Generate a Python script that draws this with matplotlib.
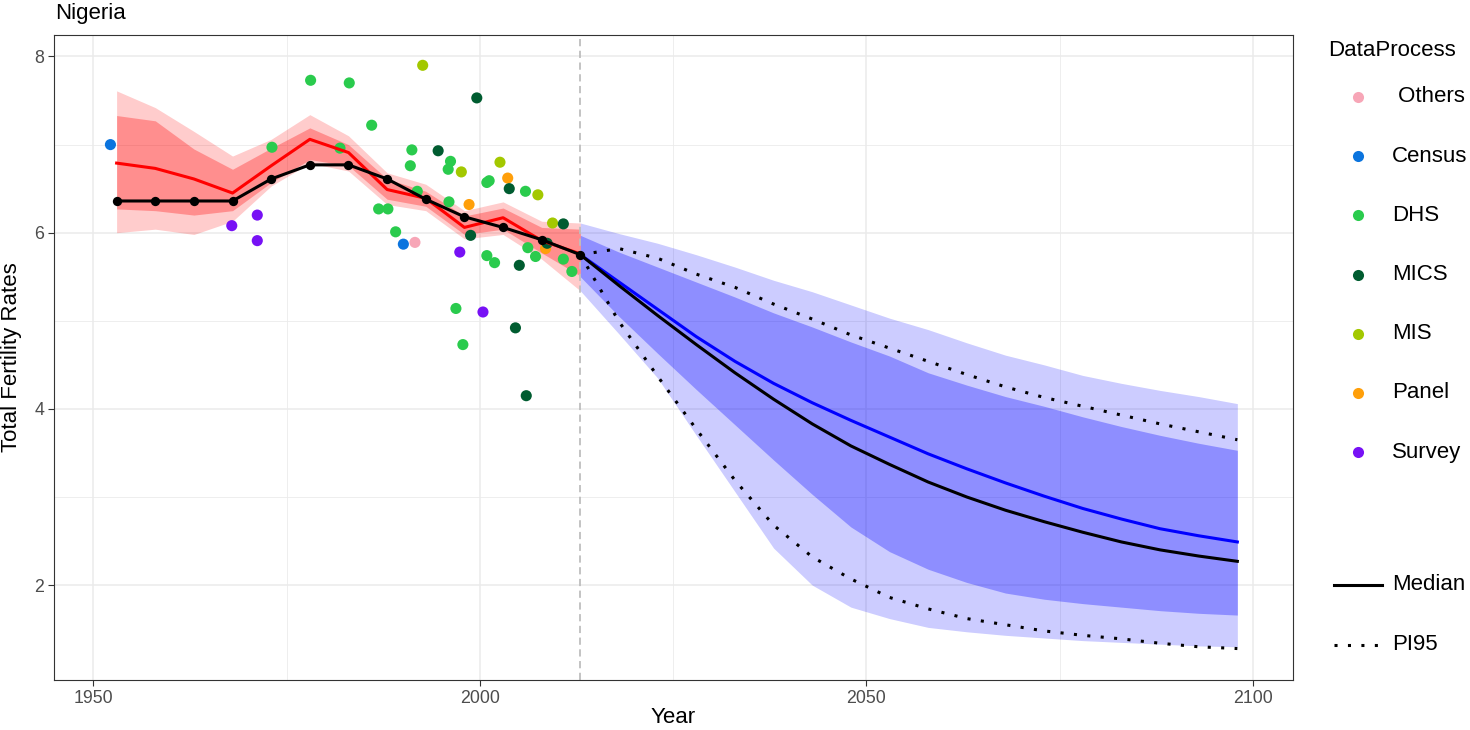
import matplotlib
matplotlib.use("Agg")
import matplotlib.pyplot as plt
from matplotlib.lines import Line2D

plt.rcParams['font.family'] = ['Liberation Sans', 'DejaVu Sans']

# Estimates (5-year periods, mid points)
past_years = [1953, 1958, 1963, 1968, 1973, 1978, 1983, 1988, 1993, 1998, 2003, 2008, 2013]
past_median = [6.36, 6.36, 6.36, 6.36, 6.61, 6.77, 6.77, 6.61, 6.38, 6.18, 6.06, 5.92, 5.75]
past_mean = [6.79, 6.73, 6.61, 6.45, 6.76, 7.06, 6.91, 6.49, 6.39, 6.06, 6.17, 5.91, 5.76]
past_lo80 = [6.27, 6.25, 6.20, 6.25, 6.57, 6.83, 6.76, 6.38, 6.30, 5.98, 6.04, 5.77, 5.51]
past_hi80 = [7.33, 7.27, 6.95, 6.72, 6.96, 7.19, 7.00, 6.61, 6.47, 6.19, 6.28, 6.06, 6.04]
past_lo95 = [6.00, 6.04, 5.98, 6.13, 6.53, 6.79, 6.70, 6.32, 6.25, 5.93, 5.98, 5.70, 5.34]
past_hi95 = [7.61, 7.42, 7.15, 6.87, 7.06, 7.34, 7.10, 6.68, 6.55, 6.25, 6.35, 6.13, 6.11]

# Projections
fut_years = [2013, 2018, 2023, 2028, 2033, 2038, 2043, 2048, 2053,
             2058, 2063, 2068, 2073, 2078, 2083, 2088, 2093, 2098]
fut_median = [5.75, 5.40, 5.06, 4.73, 4.41, 4.11, 3.83, 3.58, 3.37,
              3.17, 3.00, 2.85, 2.72, 2.60, 2.49, 2.40, 2.33, 2.27]
fut_mean = [5.75, 5.44, 5.13, 4.82, 4.54, 4.29, 4.07, 3.87, 3.68,
            3.49, 3.32, 3.16, 3.01, 2.87, 2.75, 2.64, 2.56, 2.49]
fut_pi_lo = [5.75, 4.99, 4.37, 3.77, 3.19, 2.68, 2.32, 2.07, 1.86,
             1.73, 1.62, 1.55, 1.48, 1.43, 1.39, 1.34, 1.30, 1.28]
fut_pi_hi = [5.75, 5.82, 5.71, 5.53, 5.38, 5.19, 5.02, 4.84, 4.69,
             4.54, 4.39, 4.25, 4.13, 4.03, 3.93, 3.83, 3.74, 3.65]
fut_lo80 = [5.50, 5.05, 4.63, 4.22, 3.82, 3.42, 3.03, 2.66, 2.38,
            2.18, 2.03, 1.91, 1.84, 1.79, 1.75, 1.71, 1.68, 1.66]
fut_hi80 = [5.97, 5.78, 5.61, 5.44, 5.27, 5.09, 4.93, 4.76, 4.60,
            4.41, 4.27, 4.14, 4.03, 3.91, 3.80, 3.70, 3.61, 3.53]
fut_lo95 = [5.34, 4.85, 4.35, 3.70, 3.06, 2.42, 2.00, 1.75, 1.62,
            1.52, 1.47, 1.43, 1.40, 1.37, 1.35, 1.33, 1.31, 1.30]
fut_hi95 = [6.11, 5.99, 5.88, 5.75, 5.61, 5.46, 5.33, 5.18, 5.03,
            4.90, 4.75, 4.61, 4.50, 4.38, 4.29, 4.21, 4.14, 4.06]

# Observed data points
obs_year = [1952.2, 1990.1,
            1991.6,
            1967.9, 1971.2, 1971.2, 1997.4, 2000.4,
            1992.6, 1997.6, 2002.6, 2007.5, 2009.4,
            2003.6, 1998.6, 2008.5,
            1999.6, 1994.6, 2003.8, 2010.8, 1998.8, 2008.7, 2005.1, 2004.6, 2006.0,
            1973.1, 1978.1, 1983.1, 1981.9, 1986.0, 1991.2, 1991.0, 1996.2, 1995.9,
            2000.9, 2001.2, 2005.9, 1991.9, 1996.0, 1986.9, 1988.1, 1989.1, 2006.2,
            2007.2, 2000.9, 2001.9, 2010.8, 2011.9, 1996.9, 1997.8]
obs_tfr = [7.00, 5.87,
           5.89,
           6.08, 6.20, 5.91, 5.78, 5.10,
           7.90, 6.69, 6.80, 6.43, 6.11,
           6.62, 6.32, 5.82,
           7.53, 6.93, 6.50, 6.10, 5.97, 5.88, 5.63, 4.92, 4.15,
           6.97, 7.73, 7.70, 6.96, 7.22, 6.94, 6.76, 6.81, 6.72,
           6.57, 6.59, 6.47, 6.47, 6.35, 6.27, 6.27, 6.01, 5.83,
           5.73, 5.74, 5.66, 5.70, 5.56, 5.14, 4.73]
obs_process = (['Census'] * 2 + ['Others'] + ['Survey'] * 5 + ['MIS'] * 5
               + ['Panel'] * 3 + ['MICS'] * 9 + ['DHS'] * 25)

process_names = ['Others', 'Census', 'DHS', 'MICS', 'MIS', 'Panel', 'Survey']
process_colors = ['#F7A6B7', '#0B74DE', '#2ACB4D', '#005C30', '#A3C800', '#FF9F0A', '#7711F5']
color_of = dict(zip(process_names, process_colors))

W, H = 1470, 730


def fx(px):
    return px / W


def fy(py):
    return 1 - py / H


fig = plt.figure(figsize=(W / 100, H / 100), dpi=100)
ax = fig.add_axes([fx(54), fy(680), (1293 - 54) / W, (680 - 35) / H])

# bands
ax.fill_between(past_years, past_lo95, past_hi95, color='red', alpha=0.2, lw=0, zorder=1)
ax.fill_between(past_years, past_lo80, past_hi80, color='red', alpha=0.3, lw=0, zorder=1)
ax.fill_between(fut_years, fut_lo95, fut_hi95, color='blue', alpha=0.2, lw=0, zorder=1)
ax.fill_between(fut_years, fut_lo80, fut_hi80, color='blue', alpha=0.3, lw=0, zorder=1)

ax.axvline(2013, color='#BEBEBE', ls=(0, (4, 2.5)), lw=1.3, zorder=2)

# observations
ax.scatter(obs_year, obs_tfr, c=[color_of[p] for p in obs_process], s=64, lw=0, zorder=3)

# lines
ax.plot(past_years, past_mean, color='red', lw=2.2, zorder=4)
ax.plot(fut_years, fut_mean, color='blue', lw=2.2, zorder=4)
ax.plot(fut_years, fut_pi_lo, color='black', lw=2.2, ls=(0, (1, 3.4)), zorder=5)
ax.plot(fut_years, fut_pi_hi, color='black', lw=2.2, ls=(0, (1, 3.4)), zorder=5)
ax.plot(past_years, past_median, color='black', lw=2.2, zorder=5)
ax.plot(fut_years, fut_median, color='black', lw=2.2, zorder=5)
ax.scatter(past_years, past_median, color='black', s=45, lw=0, zorder=6)

# axes styling (ggplot theme_bw look)
ax.set_xlim(1944.9, 2105.2)
ax.set_ylim(0.923, 8.244)
ax.set_xticks([1950, 2000, 2050, 2100])
ax.set_xticks([1975, 2025, 2075], minor=True)
ax.set_yticks([2, 4, 6, 8])
ax.set_yticks([3, 5, 7], minor=True)
ax.grid(which='major', color='#EBEBEB', lw=1.1, zorder=0)
ax.grid(which='minor', color='#EBEBEB', lw=0.6, zorder=0)
ax.set_axisbelow(True)
ax.tick_params(which='major', length=4, width=0.8, color='#333333',
               labelsize=12.8, labelcolor='#4D4D4D', pad=3)
ax.tick_params(which='minor', length=0)
for s in ax.spines.values():
    s.set_color('#333333')
    s.set_linewidth(0.8)

ax.set_xlabel('Year', fontsize=16)
ax.xaxis.set_label_coords(0.5, (680 - 707) / 645)
ax.set_ylabel('Total Fertility Rates', fontsize=16)
ax.yaxis.set_label_coords((22 - 54) / 1239, 0.5)
fig.text(fx(55), fy(13), 'Nigeria', fontsize=16, va='center', ha='left')

# legend: data process
fig.text(fx(1328), fy(50), 'DataProcess', fontsize=16, va='center')
for i, (name, col) in enumerate(zip(process_names, process_colors)):
    yy = 97 + 59.2 * i
    fig.add_artist(Line2D([fx(1358)], [fy(yy)], marker='o', ms=8, mew=0,
                          color=col, transform=fig.transFigure))
    label = ' ' + name if name == 'Others' else name
    fig.text(fx(1392), fy(yy), label, fontsize=16, va='center')

# legend: line types
fig.add_artist(Line2D([fx(1334), fx(1382)], [fy(585)] * 2, color='black', lw=2.2,
                      transform=fig.transFigure))
fig.text(fx(1392), fy(585), 'Median', fontsize=16, va='center')
fig.add_artist(Line2D([fx(1334), fx(1382)], [fy(645)] * 2, color='black', lw=2.2,
                      ls=(0, (1, 3.4)), transform=fig.transFigure))
fig.text(fx(1392), fy(645), 'PI95', fontsize=16, va='center')

fig.savefig('out.png', dpi=100)
